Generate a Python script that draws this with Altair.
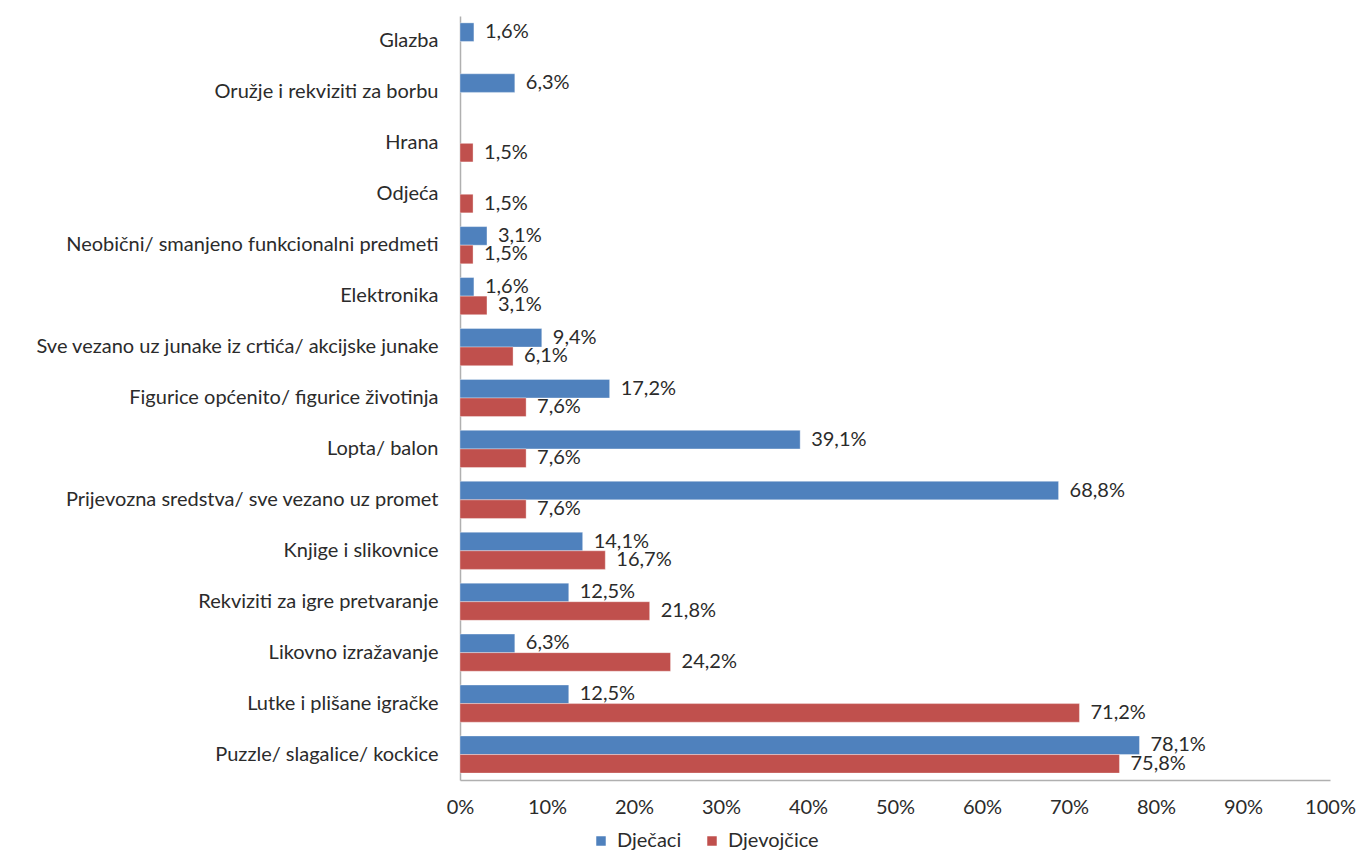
import altair as alt
import pandas as pd

categories = [
    "Glazba",
    "Oružje i rekviziti za borbu",
    "Hrana",
    "Odjeća",
    "Neobični/ smanjeno funkcionalni predmeti",
    "Elektronika",
    "Sve vezano uz junake iz crtića/ akcijske junake",
    "Figurice općenito/ figurice životinja",
    "Lopta/ balon",
    "Prijevozna sredstva/ sve vezano uz promet",
    "Knjige i slikovnice",
    "Rekviziti za igre pretvaranje",
    "Likovno izražavanje",
    "Lutke i plišane igračke",
    "Puzzle/ slagalice/ kockice",
]
djecaci = [1.6, 6.3, None, None, 3.1, 1.6, 9.4, 17.2, 39.1, 68.8, 14.1, 12.5, 6.3, 12.5, 78.1]
djevojcice = [None, None, 1.5, 1.5, 1.5, 3.1, 6.1, 7.6, 7.6, 7.6, 16.7, 21.8, 24.2, 71.2, 75.8]
series = ["Dječaci", "Djevojčice"]
colors = ["#4F81BD", "#C0504D"]

rows = []
for c, a, b in zip(categories, djecaci, djevojcice):
    if a is not None:
        rows.append({"cat": c, "spol": series[0], "v": a})
    if b is not None:
        rows.append({"cat": c, "spol": series[1], "v": b})
df = pd.DataFrame(rows)

FONT = "Lato"
FS = 20
TXT = "#2b2b2b"

y_enc = alt.Y("cat:N", sort=categories, title=None,
              scale=alt.Scale(paddingInner=0.27, paddingOuter=0.135),
              axis=alt.Axis(labelFont=FONT, labelFontSize=FS, labelColor=TXT,
                            ticks=False, labelPadding=22, domainColor="#b0b0b0",
                            domainWidth=1.5, labelLimit=600))
yoff = alt.YOffset("spol:N", sort=series, scale=alt.Scale(domain=series))
x_enc = alt.X("v:Q", title=None,
              scale=alt.Scale(domain=[0, 100], nice=False),
              axis=alt.Axis(values=list(range(0, 101, 10)), labelExpr="datum.value + '%'",
                            labelFont=FONT, labelFontSize=FS, labelColor=TXT,
                            labelFlush=False, labelBound=False, labelOverlap=False,
                            ticks=False, grid=False, labelPadding=17,
                            domainColor="#b0b0b0", domainWidth=1.5))

base = alt.Chart(df)

bars = base.mark_bar(stroke="white", strokeOpacity=0.35, strokeWidth=1).encode(
    y=y_enc, yOffset=yoff, x=x_enc,
    color=alt.Color("spol:N", sort=series,
                    scale=alt.Scale(domain=series, range=colors),
                    legend=alt.Legend(title=None, orient="none", direction="horizontal",
                                      legendX=131, legendY=815, symbolType="square",
                                      symbolSize=90, symbolStrokeWidth=0,
                                      labelFont=FONT, labelFontSize=FS, labelColor=TXT,
                                      columnPadding=20, labelOffset=6)),
)

labels = base.mark_text(align="left", baseline="middle", dx=11, font=FONT,
                        fontSize=FS, color=TXT).transform_calculate(
    lab="replace(format(datum.v, '.1f'), '.', ',') + '%'"
).encode(
    y=alt.Y("cat:N", sort=categories), yOffset=yoff, x="v:Q", text="lab:N"
)

chart = (bars + labels).properties(
    width=870, height=764,
    autosize=alt.AutoSizeParams(type="none"),
    padding={"left": 452, "top": 8, "right": 27, "bottom": 72},
    background="white",
).configure_view(strokeWidth=0, stroke="transparent")

chart.save("out.html", embed_options={"renderer": "svg", "actions": False})
